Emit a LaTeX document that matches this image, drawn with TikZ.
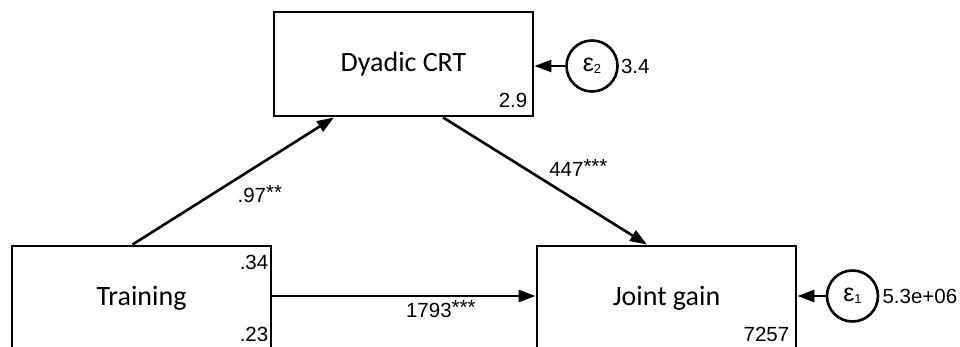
\documentclass[tikz,border=0pt]{standalone}
\usepackage{fontspec}
\setmainfont{Liberation Sans}
\newfontfamily\boxfont{Carlito}
\usetikzlibrary{arrows.meta}

% significance stars on the path coefficients
\newcommand{\sig}[1]{\raisebox{3pt}{#1}}
% error term symbol with its index
\newcommand{\err}[1]{{\fontsize{25}{25}\selectfont ε}\raisebox{-2pt}{\fontsize{13}{13}\selectfont #1}}

\begin{document}
\begin{tikzpicture}[
  x=1pt, y=-1pt,
  varbox/.style={
    draw,
    line width=2.9pt,
    minimum width=259pt,
    minimum height=104pt,
    inner sep=0pt,
    font=\boxfont\fontsize{28}{34}\selectfont
  },
  errnode/.style={
    draw,
    circle,
    line width=2.6pt,
    minimum size=51pt,
    inner sep=0pt
  },
  num/.style={inner sep=0pt, font=\fontsize{20.5}{24}\selectfont},
  coef/.style={inner sep=3pt, font=\fontsize{20.5}{24}\selectfont},
  link/.style={line width=2.6pt, -{Triangle[length=17pt, width=12pt]}}
]
\useasboundingbox (0,0) rectangle (960,347);

% observed variables
\node[varbox] (dcrt)  at (403.5, 64) {Dyadic CRT};
\node[varbox] (train) at (141.5, 298) {Training};
\node[varbox] (joint) at (666.5, 298) {Joint gain};

% intercepts and variances
\node[num, anchor=south east] (dcrtcons)  at ([shift={(-7,-10)}]dcrt.south east) {2.9};
\node[num, anchor=north east] (trainmean) at ([shift={(-4,10)}]train.north east) {.34};
\node[num, anchor=south east] (trainvar)  at ([shift={(-4,-10)}]train.south east) {.23};
\node[num, anchor=south east] (jointcons) at ([shift={(-8,-10)}]joint.south east) {7257};

% error terms
\node[errnode] (eps2) at (592, 66) {\err{2}};
\node[errnode] (eps1) at (852.5, 296) {\err{1}};
\node[num, anchor=west, inner sep=2pt] (eps2var) at (eps2.east) {3.4};
\node[num, anchor=west, inner sep=3pt] (eps1var) at (eps1.east) {5.3e+06};

% paths
\draw[link] ([xshift=-9pt]train.north) -- node[coef, midway, below right] {.97\sig{**}} ([xshift=-69.5pt]dcrt.south);
\draw[link] ([xshift=39.5pt]dcrt.south) -- node[coef, midway, above right] {447\sig{***}} ([xshift=-19.5pt]joint.north);
\draw[link] ([yshift=2pt]train.east) -- node[coef, pos=0.64, below] {1793\sig{***}} ([yshift=2pt]joint.west);
\draw[link] (eps2.west) -- (dcrt.east |- eps2.west);
\draw[link] (eps1.west) -- (joint.east |- eps1.west);
\end{tikzpicture}
\end{document}
